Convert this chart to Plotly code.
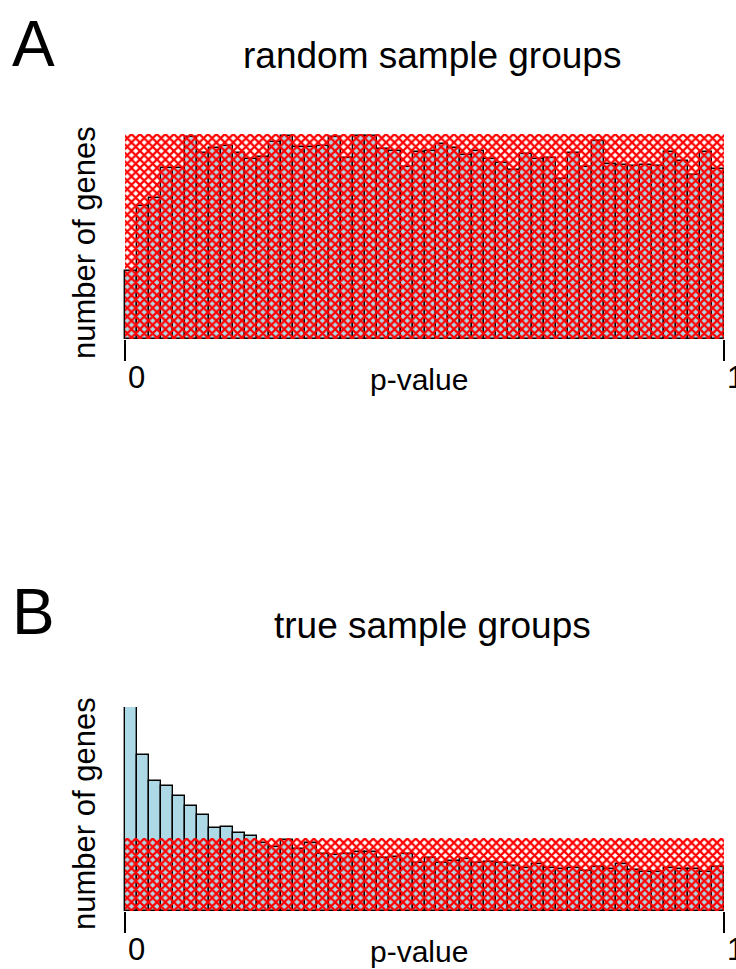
import plotly.graph_objects as go

# ---------------- data ----------------
bin_width = 0.02
n_bins = 50
bin_centers = [bin_width * (i + 0.5) for i in range(n_bins)]

# panel A: random sample groups (relative counts per p-value bin)
counts_random = [68, 133, 141, 171, 171, 202, 186, 191, 193, 186,
                 180, 182, 197, 203, 192, 192, 193, 202, 181, 203,
                 203, 190, 188, 172, 187, 188, 195, 191, 184, 188,
                 180, 176, 169, 185, 180, 181, 160, 186, 172, 198,
                 175, 174, 173, 174, 173, 187, 178, 164, 187, 170]
expected_random = 205

# panel B: true sample groups
counts_true = [204, 156, 130, 125, 115, 105, 96, 83, 84, 78,
               75, 68, 64, 71, 62, 68, 57, 56, 57, 59,
               59, 53, 54, 57, 48, 53, 48, 50, 52, 48,
               49, 48, 45, 43, 47, 43, 42, 43, 40, 44,
               42, 47, 41, 39, 39, 43, 42, 42, 39, 44]
expected_true = 73

tick_vals = [0, 1]
tick_text = ["0", "1"]
titles = ["random sample groups", "true sample groups"]
panel_letters = ["A", "B"]

# ---------------- layout helpers ----------------
W, H = 736, 969
FONT = "Liberation Sans, Arial, sans-serif"


def px_x(x):
    return x / W


def px_y(y):
    return 1 - y / H


panels = [
    dict(counts=counts_random, expected=expected_random, top=134, base=339,
         ymax=205, title_y=55, letter_y=44, ylab_y=243),
    dict(counts=counts_true, expected=expected_true, top=707, base=911,
         ymax=204, title_y=625, letter_y=612, ylab_y=814),
]

fig = go.Figure()
annotations = []
x_left, x_right = 125, 724
pad = 2  # px of breathing room so edge outlines are not clipped
pad_u = pad / (x_right - x_left)

for k, p in enumerate(panels):
    xa = "x" if k == 0 else "x2"
    ya = "y" if k == 0 else "y2"
    fig.add_trace(go.Bar(
        x=bin_centers, y=p["counts"], width=[bin_width] * n_bins,
        marker=dict(color="#ADD8E6", line=dict(color="black", width=1.4)),
        xaxis=xa, yaxis=ya, showlegend=False, hoverinfo="skip"))
    # hatched expected (uniform) level
    fig.add_trace(go.Bar(
        x=[0.5], y=[p["expected"]], width=[1.0],
        marker=dict(color="rgba(0,0,0,0)", line=dict(width=0),
                    pattern=dict(shape="x", fgcolor="#FF0000", size=6,
                                 solidity=0.6, fillmode="replace")),
        xaxis=xa, yaxis=ya, showlegend=False, hoverinfo="skip"))

    axis_x = dict(range=[-pad_u, 1 + pad_u],
                  domain=[px_x(x_left - pad), px_x(x_right + pad)],
                  showgrid=False, zeroline=False, showline=False,
                  tickvals=tick_vals, ticks="outside", ticklen=21,
                  tickwidth=1.5, tickcolor="black", showticklabels=False,
                  anchor=ya, fixedrange=True)
    axis_y = dict(range=[0, p["ymax"]],
                  domain=[px_y(p["base"]), px_y(p["top"])],
                  visible=False, anchor=xa, fixedrange=True)
    if k == 0:
        fig.update_layout(xaxis=axis_x, yaxis=axis_y)
    else:
        fig.update_layout(xaxis2=axis_x, yaxis2=axis_y)

    # tick labels (left-aligned at tick)
    for v, t in zip(tick_vals, tick_text):
        annotations.append(dict(
            x=px_x(x_left + v * (x_right - x_left) + 1), y=px_y(p["base"] + 38),
            xref="paper", yref="paper", text=t, showarrow=False,
            xanchor="left", yanchor="middle",
            font=dict(family=FONT, size=31, color="black")))
    # x title
    annotations.append(dict(
        x=px_x(419), y=px_y(p["base"] + 40), xref="paper", yref="paper",
        text="p-value", showarrow=False, xanchor="center", yanchor="middle",
        font=dict(family=FONT, size=30, color="black")))
    # y title
    annotations.append(dict(
        x=px_x(84), y=px_y(p["ylab_y"]), xref="paper", yref="paper",
        text="number of genes", showarrow=False, textangle=-90,
        xanchor="center", yanchor="middle",
        font=dict(family=FONT, size=31, color="black")))
    # panel title
    annotations.append(dict(
        x=px_x(432), y=px_y(p["title_y"]), xref="paper", yref="paper",
        text=titles[k], showarrow=False, xanchor="center", yanchor="middle",
        font=dict(family=FONT, size=37, color="black")))
    # panel letter
    annotations.append(dict(
        x=px_x(33), y=px_y(p["letter_y"]), xref="paper", yref="paper",
        text=panel_letters[k], showarrow=False, xanchor="center",
        yanchor="middle", font=dict(family=FONT, size=64, color="black")))

fig.update_layout(
    width=W, height=H, margin=dict(l=0, r=0, t=0, b=0),
    paper_bgcolor="white", plot_bgcolor="white",
    barmode="overlay", bargap=0, annotations=annotations,
    showlegend=False)

fig.write_html("out.html", config={"displayModeBar": False})
